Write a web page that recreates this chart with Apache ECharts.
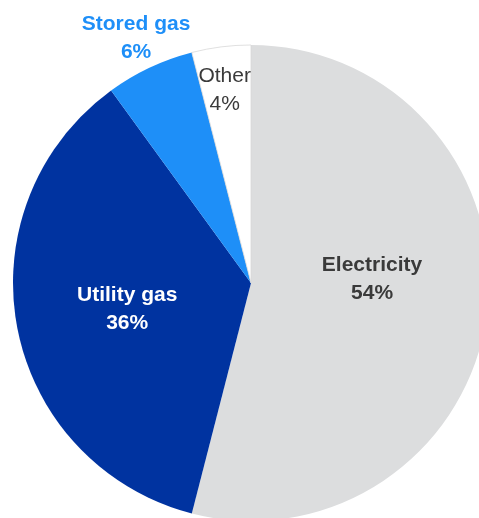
<!DOCTYPE html>
<html>
<head>
<meta charset="utf-8">
<script src="https://cdn.jsdelivr.net/npm/echarts@6/dist/echarts.min.js"></script>
<style>
  html, body { margin: 0; padding: 0; background: #fff; }
  #chart { width: 479px; height: 518px; }
</style>
</head>
<body>
<div id="chart"></div>
<script>
const categories = ["Electricity", "Utility gas", "Stored gas", "Other"];
const values = [54, 36, 6, 4];

const colors = ["#dcddde", "#0033a0", "#1e8ff8", "#ffffff"];
const labelColors = ["#3a3a3a", "#ffffff", "#1e8ff8", "#3a3a3a"];
const labelWeights = ["bold", "bold", "bold", "normal"];
// label nudges from the default inside position
const nudges = [[0, -19], [-4, 3], [-63, -134], [-11, -72]];

const chart = echarts.init(document.getElementById("chart"));

chart.setOption({
  animation: false,
  series: [
    {
      type: "pie",
      center: [251, 283],
      radius: 238,
      startAngle: 90,
      clockwise: true,
      avoidLabelOverlap: false,
      label: {
        position: "inside",
        fontFamily: "'Liberation Sans', Arial, sans-serif",
        fontSize: 21,
        lineHeight: 28,
        formatter: (p) => p.name + "\n" + p.value + "%",
      },
      labelLine: { show: false },
      labelLayout: (params) => ({
        dx: nudges[params.dataIndex][0],
        dy: nudges[params.dataIndex][1],
      }),
      emphasis: { disabled: true },
      data: categories.map((name, i) => ({
        name: name,
        value: values[i],
        itemStyle: {
          color: colors[i],
          borderColor: i === 3 ? "#d8d8d8" : colors[i],
          borderWidth: i === 3 ? 0.8 : 0,
        },
        label: {
          color: labelColors[i],
          fontWeight: labelWeights[i],
        },
      })),
    },
  ],
});
</script>
</body>
</html>
